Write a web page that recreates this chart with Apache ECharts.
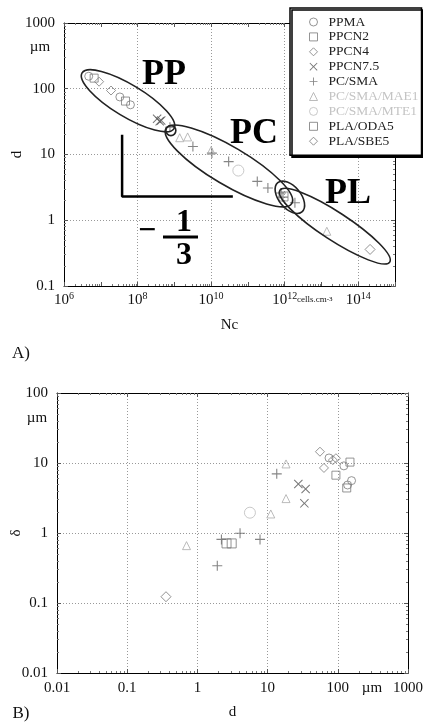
<!DOCTYPE html>
<html><head><meta charset="utf-8">
<script src="https://cdn.jsdelivr.net/npm/echarts@6/dist/echarts.min.js"></script>
<style>html,body{margin:0;padding:0;background:#fff}#c{width:423px;height:726px}</style>
</head><body><div id="c"></div>
<script>
// ---------- DATA ----------
const seriesNames = ['PPMA','PPCN2','PPCN4','PPCN7.5','PC/SMA','PC/SMA/MAE1','PC/SMA/MTE1','PLA/ODA5','PLA/SBE5'];
// Panel A : [Nc (cells.cm-3), d (µm)]
const A_PPMA  = [[4.7e6,155],[3.3e7,75],[6.4e7,57]];
const A_PPCN2 = [[6.6e6,145],[4.7e7,65]];
const A_PPCN4 = [[9e6,128],[1.9e7,94]];
const A_PPCN75 = [[3.4e8,35],[4.0e8,32],[4.4e8,33]];
const A_PCSMA = [[7.6e8,26],[3.2e9,13.2],[1.05e10,10.5],[3e10,7.8],[1.8e11,3.9],[3.5e11,3.1],[8e11,2.6],[9e11,2.25],[1.9e12,1.85]];
const A_MAE1  = [[1.4e9,18],[2.3e9,18.5],[1e10,11.5],[1.4e13,0.68]];
const A_MTE1  = [[5.5e10,5.7]];
const A_ODA5  = [[9.3e11,2.3]];
const A_SBE5  = [[2.1e14,0.36]];
// Panel B : [d (µm), delta (µm)]
const B_PPMA  = [[75,11.8],[122,9.1],[157,5.6],[138,4.85]];
const B_PPCN2 = [[149,10.3],[94,6.7],[134,4.4]];
const B_PPCN4 = [[55.7,14.5],[63.5,8.5],[94,11.7],[85,11]];
const B_PPCN75 = [[27.4,5.0],[34.8,4.25],[33.4,2.65]];
const B_PCSMA = [[13.5,7.0],[4.05,0.99],[2.2,0.81],[7.8,0.81],[1.92,0.34]];
const B_MAE1  = [[18.3,9.7],[18.3,3.1],[11.1,1.87],[0.70,0.66]];
const B_MTE1  = [[5.6,1.95]];
const B_ODA5  = [[2.6,0.71],[3.08,0.71]];
const B_SBE5  = [[0.357,0.123]];
// tick labels
const A_xLabelExps = [6,8,10,12,14];
const A_yLabels = ['0.1','1','10','100','1000'];
const B_xLabels = ['0.01','0.1','1','10','100','1000'];
const B_yLabels = ['0.01','0.1','1','10','100'];
// annotations (data coords of panel A)
const slopeLine = [[3.8e7,20],[3.8e7,2.3],[3.9e10,2.3]];
const ellipseEnds = [
  [[3.1e6,174],[9.8e8,24.8]],
  [[5.9e8,24.8],[1.57e12,1.81]],
  [[7.4e11,2.85],[7.2e14,0.231]],
  [[6.5e11,3.72],[2.95e12,1.34]],
  [[5.9e8,23.1],[1.1e9,23.1]]
];
const ellipseHalfWidths = [16,19,14,11,5];

// ---------- STYLES ----------
const SERIF = '"Liberation Serif","DejaVu Serif",serif';
const CROSS = 'path://M0,4.45L10,4.45L10,5.55L0,5.55Z M4.45,0L5.55,0L5.55,10L4.45,10Z';
const XMARK = 'path://M0.8,0L5,4.2L9.2,0L10,0.8L5.8,5L10,9.2L9.2,10L5,5.8L0.8,10L0,9.2L4.2,5L0,0.8Z';
const styles = {
  'PPMA':        {symbol:'circle',  size:8,  color:'#7a7a7a', hollow:true},
  'PPCN2':       {symbol:'rect',    size:8,  color:'#7a7a7a', hollow:true},
  'PPCN4':       {symbol:'diamond', size:9,  color:'#7a7a7a', hollow:true},
  'PPCN7.5':     {symbol:XMARK,     size:9,  color:'#555',    hollow:false},
  'PC/SMA':      {symbol:CROSS,     size:10, color:'#666',    hollow:false},
  'PC/SMA/MAE1': {symbol:'triangle',size:8,  color:'#aaa',    hollow:true},
  'PC/SMA/MTE1': {symbol:'circle',  size:11, color:'#bbb',    hollow:true},
  'PLA/ODA5':    {symbol:'rect',    size:9,  color:'#777',    hollow:true},
  'PLA/SBE5':    {symbol:'diamond', size:10, color:'#777',    hollow:true}
};
const dataA = [A_PPMA,A_PPCN2,A_PPCN4,A_PPCN75,A_PCSMA,A_MAE1,A_MTE1,A_ODA5,A_SBE5];
const dataB = [B_PPMA,B_PPCN2,B_PPCN4,B_PPCN75,B_PCSMA,B_MAE1,B_MTE1,B_ODA5,B_SBE5];

function scatter(name, data, xi, yi) {
  const s = styles[name];
  return {
    type:'scatter', name, data, xAxisIndex:xi, yAxisIndex:yi,
    symbol:s.symbol, symbolSize:s.size, silent:true,
    itemStyle: s.hollow ? {color:'rgba(255,255,255,0)', borderColor:s.color, borderWidth:1}
                        : {color:s.color, borderWidth:0},
    emphasis:{disabled:true}
  };
}

const gridLine = c => ({show:true, lineStyle:{color:c, type:[1,2], width:1}});
function logAxis(pos, gridIndex, min, max, opts) {
  return Object.assign({
    type:'log', logBase:10, gridIndex, position:pos, min, max, interval:1,
    nameMoveOverlap:false,
    axisLine:{show:true, onZero:false, lineStyle:{color:'#000', width:1}},
    axisTick:{show:true, inside:true, length:4, lineStyle:{color:'#555'}},
    minorTick:{show:true, splitNumber:9, length:2, lineStyle:{color:'#777'}},
    axisLabel:{show:false},
    splitLine:{show:false}
  }, opts||{});
}
const labelFont = {fontFamily:SERIF, fontSize:15, color:'#111'};

const option = {
  animation:false,
  backgroundColor:'#fff',
  grid:[
    {left:64, top:23, width:331, height:263, show:false, containLabel:false, outerBoundsMode:'none'},
    {left:57, top:393, width:351, height:280, show:false, containLabel:false, outerBoundsMode:'none'}
  ],
  xAxis:[
    logAxis('bottom',0,1e6,1e15,{
      name:'Nc', nameLocation:'middle', nameGap:32,
      nameTextStyle:{fontFamily:SERIF, fontSize:15, color:'#111'},
      axisLabel:{show:true, interval:0, margin:5, fontFamily:SERIF, fontSize:15, color:'#111',
        formatter:v=>{const e=Math.round(Math.log10(v)); return A_xLabelExps.includes(e)?'{b|10}{s|'+e+'}':'';},
        rich:{b:{fontFamily:SERIF,fontSize:15,color:'#111',lineHeight:18},s:{fontFamily:SERIF,fontSize:10,color:'#111',verticalAlign:'top',lineHeight:12}}},
      splitLine:{show:true, showMinLine:false, showMaxLine:false, lineStyle:{color:['rgba(0,0,0,0)','#999'], type:[1,2], width:1}}
    }),
    logAxis('top',0,1e6,1e15),
    logAxis('bottom',1,0.01,1000,{
      name:'d', nameLocation:'middle', nameGap:32,
      nameTextStyle:{fontFamily:SERIF, fontSize:15, color:'#111'},
      axisLabel:Object.assign({show:true, interval:0, margin:8, formatter:v=>{const i=Math.round(Math.log10(v))+2; return B_xLabels[i]||'';}}, labelFont),
      splitLine:Object.assign(gridLine('#999'),{showMinLine:false, showMaxLine:false})
    }),
    logAxis('top',1,0.01,1000)
  ],
  yAxis:[
    logAxis('left',0,0.1,1000,{
      name:'d', nameLocation:'middle', nameGap:39, nameRotate:90,
      nameTextStyle:{fontFamily:SERIF, fontSize:15, color:'#111'},
      axisLabel:Object.assign({show:true, interval:0, margin:9, formatter:v=>{const i=Math.round(Math.log10(v))+1; return A_yLabels[i]||'';}}, labelFont),
      splitLine:Object.assign(gridLine('#999'),{showMinLine:false, showMaxLine:false})
    }),
    logAxis('right',0,0.1,1000),
    logAxis('left',1,0.01,100,{
      name:'δ', nameLocation:'middle', nameGap:33, nameRotate:90,
      nameTextStyle:{fontFamily:SERIF, fontSize:15, color:'#111'},
      axisLabel:Object.assign({show:true, interval:0, margin:9, formatter:v=>{const i=Math.round(Math.log10(v))+2; return B_yLabels[i]||'';}}, labelFont),
      splitLine:Object.assign(gridLine('#999'),{showMinLine:false, showMaxLine:false})
    }),
    logAxis('right',1,0.01,100)
  ],
  legend:{
    data: seriesNames.map(n => (n==='PC/SMA/MAE1'||n==='PC/SMA/MTE1') ? {name:n, textStyle:{color:'#c4c4c4'}} : {name:n}),
    orient:'vertical', left:290, top:8, padding:[7,3,7,19],
    itemWidth:8, itemHeight:8, itemGap:0.9,
    itemStyle:{borderWidth:1},
    backgroundColor:'#fff', borderColor:'#000', borderWidth:1.5,
    shadowColor:'#000', shadowOffsetX:2, shadowOffsetY:2, shadowBlur:0,
    textStyle:{fontFamily:SERIF, fontSize:13.5, color:'#222', padding:[0,0,0,6]},
    selectedMode:false
  },
  series: [].concat(
    seriesNames.map((n,i)=>scatter(n,dataA[i],0,0)),
    seriesNames.map((n,i)=>scatter(n,dataB[i],2,2)),
    [{type:'line', name:'slope', data:slopeLine, xAxisIndex:0, yAxisIndex:0, symbol:'none', silent:true,
      lineStyle:{color:'#000', width:2.5}, z:1}]
  )
};

const chart = echarts.init(document.getElementById('c'), null, {renderer:'canvas'});
chart.setOption(option);

// graphic annotations
const g = [];
ellipseEnds.forEach((ends,i)=>{
  const p1 = chart.convertToPixel({xAxisIndex:0,yAxisIndex:0}, ends[0]);
  const p2 = chart.convertToPixel({xAxisIndex:0,yAxisIndex:0}, ends[1]);
  const cx=(p1[0]+p2[0])/2, cy=(p1[1]+p2[1])/2;
  const a=Math.hypot(p2[0]-p1[0],p2[1]-p1[1])/2;
  const ang=Math.atan2(p2[1]-p1[1],p2[0]-p1[0]);
  g.push({type:'ellipse', x:cx, y:cy, rotation:-ang, shape:{cx:0,cy:0,rx:a,ry:ellipseHalfWidths[i]},
    style:{fill:'none', stroke:'#222', lineWidth:1.6}, silent:true, z:50});
});
const bigFont = 'bold 36px '+SERIF;
const txt = (text,x,y,font,extra) => Object.assign({type:'text', x, y, silent:true, z:60,
  style:Object.assign({text, font, fill:'#000', align:'center', verticalAlign:'middle'}, extra||{})});
g.push(txt('PP',164,75,bigFont));
g.push(txt('PC',254,134,bigFont));
g.push(txt('PL',348,194,bigFont));
g.push(txt('\u2212',147,232,'bold 32px '+SERIF));
g.push(txt('1',184,223,'bold 32px '+SERIF));
g.push(txt('3',184,256,'bold 32px '+SERIF));
g.push({type:'line', shape:{x1:163,y1:237,x2:198,y2:237}, style:{stroke:'#000', lineWidth:3}, silent:true, z:60});
g.push(txt('\u00b5m',40,47,'15px '+SERIF,{fill:'#111'}));
g.push(txt('\u00b5m',37,418,'15px '+SERIF,{fill:'#111'}));
g.push(txt('\u00b5m',372,688,'15px '+SERIF,{fill:'#111'}));
g.push({type:'text', x:297, y:300, silent:true, z:60, style:{text:'{a|cells.cm}{s|-3}', verticalAlign:'middle', align:'left',
  rich:{a:{fontFamily:SERIF,fontSize:9,fill:'#111',color:'#111'},s:{fontFamily:SERIF,fontSize:7,color:'#111',verticalAlign:'top'}}}});
g.push(txt('A)',21,354,'17px '+SERIF,{fill:'#111'}));
g.push(txt('B)',21,714,'17px '+SERIF,{fill:'#111'}));
chart.setOption({graphic:{elements:g}});
</script></body></html>
